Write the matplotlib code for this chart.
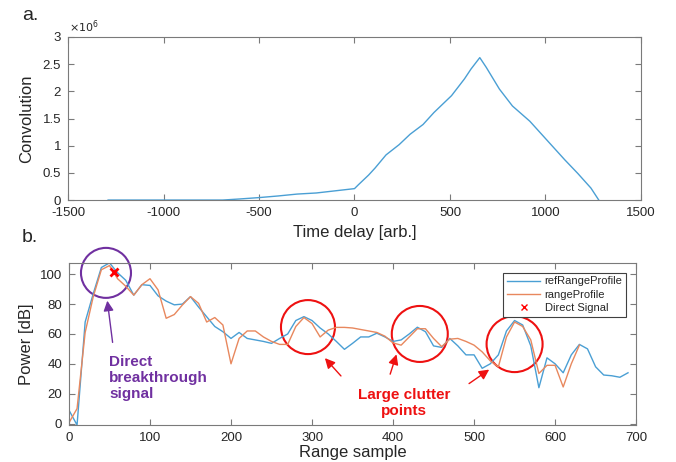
import numpy as np
import matplotlib.pyplot as plt
import matplotlib.transforms as mtransforms
from matplotlib.patches import Circle

plt.rcParams['font.family'] = ['Liberation Sans', 'DejaVu Sans']
plt.rcParams['axes.unicode_minus'] = False

# panel a: convolution vs time delay (values in units of 1e6)
conv_delay = [-1290, -690, -600, -500, -400, -300, -200, -100, 0, 20, 74, 108, 165, 234,
              291, 359, 416, 508, 576, 610, 656, 690, 759, 827, 918, 1021, 1101, 1169,
              1238, 1279]
conv_mega = [0, 0, 0.02, 0.045, 0.075, 0.11, 0.13, 0.17, 0.21, 0.28, 0.46, 0.59, 0.83, 1.02,
             1.21, 1.39, 1.61, 1.92, 2.23, 2.41, 2.62, 2.44, 2.04, 1.73, 1.45, 1.05, 0.74, 0.49,
             0.22, 0]

# panel b: range profiles
ref_range = list(range(0, 700, 10))
ref_profile = [9, -1, 68, 87, 104.5, 107.6, 101, 96, 86, 93, 92.5, 85.5, 82, 79.5, 80, 85,
               78, 71.5, 65, 61.5, 57, 61, 57, 56, 55, 53.7, 57, 60, 69, 71.6,
               69, 64, 60, 55, 49.7, 53.7, 58, 58, 60.5, 58, 55, 56, 60, 64.5, 61.5,
               52, 51, 57, 52, 46, 46, 37, 40, 46, 62, 69, 66, 52, 24, 44,
               40, 34, 46, 53, 50, 38, 32.5, 32, 31, 34]
sig_range = list(range(0, 640, 10))
sig_profile = [0.5, 10, 61, 85, 103, 105.8, 97, 92, 86, 93, 97, 89.5, 70.5, 73, 79.4, 85,
               80.5, 68, 71, 66, 40, 57, 62, 62, 58, 55, 53, 53, 65, 71,
               67, 58, 62.6, 64.4, 64.4, 64, 63, 62, 61, 58.5, 54, 52.5, 58, 63.5, 63.5,
               57, 51.5, 56.5, 57, 55, 52.5, 48, 42, 38, 58, 68, 65, 56, 33.5, 39,
               39, 24.5, 40, 52.5]
direct_x = [55]
direct_y = [101.5]

blue = '#4a9fd4'
orange = '#e8885e'
purple = '#7030a0'
red = '#ee1111'
axcol = '#7a7a7a'
txtcol = '#262626'

fig = plt.figure(figsize=(6.76, 4.62), dpi=100)
ax1 = fig.add_axes([0.1006, 0.567, 0.8476, 0.353])
ax2 = fig.add_axes([0.102, 0.080, 0.839, 0.351])

for ax in (ax1, ax2):
    ax.tick_params(direction='in', top=True, right=True, length=4.5, width=0.8,
                   colors=axcol, labelcolor=txtcol, labelsize=9.5, pad=5)
    for s in ax.spines.values():
        s.set_color(axcol)
        s.set_linewidth(0.8)

ax1.plot(conv_delay, conv_mega, color=blue, lw=1)
ax1.set_xlim(-1500, 1500)
ax1.set_ylim(0, 3)
ax1.set_xticks(np.arange(-1500, 1501, 500))
ax1.set_yticks([0, 0.5, 1, 1.5, 2, 2.5, 3])
ax1.set_yticklabels(['0', '0.5', '1', '1.5', '2', '2.5', '3'])
ax1.set_xlabel('Time delay [arb.]', fontsize=12, color=txtcol, labelpad=4)
ax1.set_ylabel('Convolution', fontsize=12, color=txtcol, labelpad=6)
ax1.text(0.002, 1.015, r'$\times10^6$', transform=ax1.transAxes, fontsize=8,
         color=txtcol, ha='left', va='bottom')

ax2.plot(ref_range, ref_profile, color=blue, lw=1, label='refRangeProfile')
ax2.plot(sig_range, sig_profile, color=orange, lw=1, label='rangeProfile')
ax2.plot(direct_x, direct_y, 'x', color='red', ms=6, mew=2, label='Direct Signal')
ax2.set_xlim(0, 700)
ax2.set_ylim(-1, 107.6)
ax2.set_xticks(np.arange(0, 701, 100))
ax2.set_yticks(np.arange(0, 101, 20))
ax2.set_xlabel('Range sample', fontsize=12, color=txtcol, labelpad=1)
ax2.set_ylabel('Power [dB]', fontsize=12, color=txtcol, labelpad=4)
leg = ax2.legend(loc='upper right', bbox_to_anchor=(0.983, 0.94), fontsize=8,
                 handlelength=3.0, labelspacing=0.3, borderpad=0.35, handletextpad=0.4,
                 borderaxespad=0, fancybox=False, framealpha=1, edgecolor='#404040')
leg.get_frame().set_linewidth(0.8)
for t in leg.get_texts():
    t.set_color(txtcol)
# legend marker for direct signal is thinner
leg.legend_handles[2].set_markeredgewidth(1)
leg.legend_handles[2].set_markersize(5)


def ring(ax, x, y, r_px, color):
    trans = fig.dpi_scale_trans + mtransforms.ScaledTranslation(x, y, ax.transData)
    ax.add_patch(Circle((0, 0), r_px / fig.dpi, transform=trans, fill=False,
                        ec=color, lw=1.5, clip_on=False))


ring(ax2, 45.7, 100.9, 25, purple)
ring(ax2, 295, 64.6, 27, red)
ring(ax2, 433, 60, 28, red)
ring(ax2, 550, 53.2, 28, red)

ax2.annotate('', xy=(46.9, 84.1), xytext=(54.3, 52.5),
             arrowprops=dict(arrowstyle='-|>', color=purple, lw=1, mutation_scale=15))
for hx, hy, tx, ty in [(313.6, 45.2, 338, 30.5), (405.3, 48.1, 395.4, 31.3),
                       (521.5, 37.2, 491, 25.7)]:
    ax2.annotate('', xy=(hx, hy), xytext=(tx, ty),
                 arrowprops=dict(arrowstyle='-|>', color=red, lw=1, mutation_scale=15))

ax2.text(49.8, 30.4, 'Direct\nbreakthrough\nsignal', color=purple, fontsize=11,
         fontweight='bold', ha='left', va='center', linespacing=1.2)
ax2.text(413.6, 14, 'Large clutter\npoints', color=red, fontsize=11,
         fontweight='bold', ha='center', va='center', multialignment='center',
         linespacing=1.2)

fig.text(22 / 676, 1 - 15 / 462, 'a.', fontsize=14, color=txtcol, ha='left', va='center')
fig.text(22 / 676, 1 - 237 / 462, 'b.', fontsize=14, color=txtcol, ha='left', va='center')

fig.savefig('out.png', dpi=100)
